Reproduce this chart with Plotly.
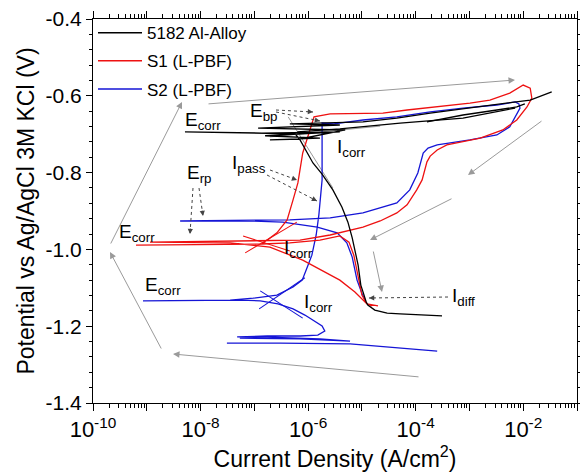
import math
import plotly.graph_objects as go

# ---------------- data (log10 current density in A/cm2, potential in V) ----------------
alloy_logj = [-3.51, -3.92, -4.29, -4.53, -4.76, -4.89, -4.92, -4.96, -5.02, -5.07, -5.13, -5.18,
              -5.26, -5.37, -5.54, -5.74, -5.91, -6.04, -6.15, -6.24, -8.29, -6.86, -5.41, -6.80,
              -5.78, -6.71, -6.15, -5.31, -6.93, -5.41, -6.34, -4.98, -4.35,
              -3.73, -3.12, -2.49, -2.15, -1.87, -1.47,
              None, -1.97, -2.12, -2.49, -3.12, -3.79,
              None, -2.15, -3.12, -4.29, -5.41, -6.20]
alloy_e = [-1.173, -1.171, -1.168, -1.166, -1.158, -1.145, -1.137, -1.119, -1.093, -1.041, -1.002, -0.970,
           -0.929, -0.890, -0.845, -0.804, -0.775, -0.741, -0.715, -0.699, -0.694, -0.697, -0.694, -0.704,
           -0.710, -0.715, -0.7125, -0.689, -0.684, -0.676, -0.673, -0.668, -0.658,
           -0.645, -0.634, -0.624, -0.616, -0.611, -0.590,
           None, -0.621, -0.629, -0.637, -0.650, -0.668,
           None, -0.632, -0.658, -0.671, -0.686, -0.694]

s1_logj = [-4.70, -4.905, -5.00, -5.07, -5.15, -5.24, -5.41, -5.78, -6.34, -6.86, -9.20, -6.86,
           -6.58, -6.39, -6.28, -6.19, -6.10, -5.97, -5.89, -5.59, -4.61, -4.16, -3.60, -2.99,
           -2.62, -2.25, -2.00, -1.87, -1.84, -1.93, -2.12, -2.38, -2.80, -3.42, -3.60, -3.73,
           -3.79, -3.88, -3.98, -4.16, -4.35, -4.66, -4.98, -5.59, -6.15, -7.08, -8.94, -7.45,
           -6.71, -6.10, -5.41, -5.13, -4.98, -4.905, -4.81]
s1_e = [-1.147, -1.142, -1.119, -1.067, -1.015, -0.981, -0.965, -0.976, -0.983, -0.986, -0.989, -0.986,
        -0.957, -0.923, -0.871, -0.827, -0.749, -0.689, -0.655, -0.647, -0.645, -0.637, -0.629, -0.619,
        -0.611, -0.593, -0.572, -0.580, -0.606, -0.629, -0.663, -0.689, -0.710, -0.728, -0.741, -0.757,
        -0.772, -0.819, -0.845, -0.884, -0.905, -0.926, -0.942, -0.9625, -0.976, -0.978, -0.981, -0.983,
        -0.994, -1.028, -1.080, -1.111, -1.132, -1.142, -1.147]

s2_logj = [-3.60, -4.29, -5.22, -6.52, -7.51, None,
           -7.27, -6.15, -5.22, -5.78, -6.76, -7.32,
           -6.76, -6.15, -5.82, -5.69, -5.74, -5.85, -6.06, -6.28, -6.56, -6.89, -7.27,
           -9.07, -7.45, -7.02, -6.58, -6.28, -6.11, -6.02, -5.93, -5.85, -5.80, -5.74, -5.74,
           -5.52, -4.98, -4.35, -3.73, -3.12,
           -2.49, -2.15, -2.08, -2.06, -2.15, -2.25, -2.49, -2.99, -3.60, -3.77, -3.86, -3.96,
           -4.11, -4.35, -4.98, -5.59, -6.34, -8.38, -7.08, -6.47, -5.83, -5.46, -5.28, -5.18,
           -5.09, -5.00, -4.94]
s2_e = [-1.265, -1.257, -1.246, -1.244, -1.244, None,
        -1.231, -1.233, -1.239, -1.233, -1.2285, -1.228,
        -1.2255, -1.2255, -1.223, -1.2125, -1.1995, -1.189, -1.171, -1.155, -1.142, -1.134, -1.132,
        -1.134, -1.132, -1.127, -1.119, -1.098, -1.080, -1.048, -1.015, -0.9625, -0.910, -0.819, -0.671,
        -0.673, -0.663, -0.655, -0.642, -0.632,
        -0.624, -0.616, -0.621, -0.632, -0.655, -0.681, -0.702, -0.715, -0.728, -0.736, -0.749, -0.801,
        -0.845, -0.879, -0.905, -0.918, -0.923, -0.926, -0.926, -0.929, -0.942, -0.957, -0.983, -1.020,
        -1.080, -1.114, -1.132]

# Tafel extrapolation lines
s1_tafel_logj = [-7.17, -6.21, None, -7.21, -6.34]
s1_tafel_e = [-1.009, -0.929, None, -0.965, -1.004]
s2_tafel_logj = [-6.91, -6.06, None, -6.89, -6.10]
s2_tafel_e = [-1.155, -1.074, None, -1.108, -1.179]
alloy_tafel_logj = [-6.37, -5.54, None, -6.71, -4.66]
alloy_tafel_e = [-0.655, -0.840, None, -0.707, -0.679]

series_names = ["5182 Al-Alloy", "S1 (L-PBF)", "S2 (L-PBF)"]
x_tick_exponents = [-10, -9, -8, -7, -6, -5, -4, -3, -2, -1]
x_tick_labels = ["10<sup>-10</sup>", "", "10<sup>-8</sup>", "", "10<sup>-6</sup>", "",
                 "10<sup>-4</sup>", "", "10<sup>-2</sup>", ""]
y_tick_values = [-1.4, -1.2, -1.0, -0.8, -0.6, -0.4]
y_tick_labels = ["-1.4", "-1.2", "-1.0", "-0.8", "-0.6", "-0.4"]


def to_j(vals):
    return [None if v is None else 10 ** v for v in vals]


BLACK, RED, BLUE, GRAY = "#000000", "#ee1111", "#1515d6", "#9a9a9a"
FONT = "Liberation Sans, Arial, sans-serif"

fig = go.Figure()
fig.add_trace(go.Scatter(x=to_j(alloy_tafel_logj), y=alloy_tafel_e, mode="lines",
                         line=dict(color=GRAY, width=1), showlegend=False, hoverinfo="skip"))
fig.add_trace(go.Scatter(x=to_j(s2_logj), y=s2_e, mode="lines", name=series_names[2],
                         line=dict(color=BLUE, width=1.3), showlegend=False))
fig.add_trace(go.Scatter(x=to_j(s2_tafel_logj), y=s2_tafel_e, mode="lines",
                         line=dict(color=BLUE, width=1.1), showlegend=False, hoverinfo="skip"))
fig.add_trace(go.Scatter(x=to_j(s1_logj), y=s1_e, mode="lines", name=series_names[1],
                         line=dict(color=RED, width=1.3), showlegend=False))
fig.add_trace(go.Scatter(x=to_j(s1_tafel_logj), y=s1_tafel_e, mode="lines",
                         line=dict(color=RED, width=1.1), showlegend=False, hoverinfo="skip"))
fig.add_trace(go.Scatter(x=to_j(alloy_logj), y=alloy_e, mode="lines", name=series_names[0],
                         line=dict(color=BLACK, width=1.3), showlegend=False))
# legend entries (in reference order)
for i, (nm, col) in enumerate(zip(series_names, [BLACK, RED, BLUE])):
    fig.add_trace(go.Scatter(x=[None], y=[None], mode="lines", name=nm, legendgroup=f"g{i}",
                             legendrank=i, line=dict(color=col, width=1.5)))

X0, X1, Y0, Y1 = 93, 577, 19, 403


def pp(x, y):
    return (x - X0) / (X1 - X0), (Y1 - y) / (Y1 - Y0)


def arrow(tail, head, color, width=1.0, size=1.0):
    hx, hy = pp(*head)
    fig.add_annotation(xref="paper", yref="paper", x=hx, y=hy, ax=tail[0] - head[0],
                       ay=tail[1] - head[1], axref="pixel", ayref="pixel", text="",
                       showarrow=True, arrowhead=2, arrowsize=size, arrowwidth=width,
                       arrowcolor=color)


def dotted_pointer(tail, head, color="#444444"):
    tx, ty = pp(*tail)
    hx, hy = pp(*head)
    fig.add_shape(type="line", xref="paper", yref="paper", x0=tx, y0=ty, x1=hx, y1=hy,
                  line=dict(color=color, width=1, dash="dot"))
    dx, dy = tail[0] - head[0], tail[1] - head[1]
    n = math.hypot(dx, dy)
    short = (head[0] + dx / n * 7, head[1] + dy / n * 7)
    arrow(short, head, color, 0.8, 1.3)


def label(x, y, txt):
    lx, ly = pp(x, y)
    fig.add_annotation(xref="paper", yref="paper", x=lx, y=ly, text=txt, showarrow=False,
                       xanchor="left", yanchor="middle",
                       font=dict(family=FONT, size=19, color="black"))


# big gray scan-direction arrows
for t, h in [((420, 377), (173, 354)), ((162, 350), (110, 252)), ((110, 245), (182, 102)),
             ((207, 104), (515, 80)), ((543, 120), (468, 175)), ((453, 198), (370, 240)),
             ((373, 250), (382, 292))]:
    arrow(t, h, GRAY, 1.0, 1.3)

# small dotted pointer arrows
for t, h in [((276, 110), (313, 112)), ((276, 112), (320, 121)), ((270, 170), (297, 180)),
             ((267, 175), (317, 201)), ((193, 188), (190, 234)), ((199, 188), (203, 216)),
             ((448, 297), (369, 298))]:
    dotted_pointer(t, h)

label(183, 121, "E<sub>corr</sub>")
label(248, 112, "E<sub>bp</sub>")
label(335, 148, "I<sub>corr</sub>")
label(230, 164, "I<sub>pass</sub>")
label(185, 174, "E<sub>rp</sub>")
label(117, 233, "E<sub>corr</sub>")
label(282, 249, "I<sub>corr</sub>")
label(143, 286, "E<sub>corr</sub>")
label(302, 303, "I<sub>corr</sub>")
label(450, 297, "I<sub>diff</sub>")

x_minor = [m * 10 ** k for k in range(-10, -1) for m in range(2, 10)]
y_minor = [round(-1.4 + 0.04 * i, 2) for i in range(26)]

fig.update_layout(
    width=580, height=473,
    margin=dict(l=93, r=3, t=19, b=70),
    paper_bgcolor="white", plot_bgcolor="white",
    font=dict(family=FONT, color="black"),
    legend=dict(x=0.0, y=1.01, xanchor="left", yanchor="top", bgcolor="rgba(0,0,0,0)",
                font=dict(family=FONT, size=17), tracegroupgap=3, traceorder="grouped",
                itemwidth=44),
    xaxis=dict(type="log", range=[-10, -1], showgrid=False, zeroline=False, automargin=False,
               showline=True, linecolor="black", linewidth=1, mirror="allticks",
               ticks="outside", ticklen=7, tickcolor="black",
               tickmode="array", tickvals=[10 ** k for k in x_tick_exponents], ticktext=x_tick_labels,
               tickfont=dict(family=FONT, size=22),
               minor=dict(ticks="outside", ticklen=4, tickcolor="black", tickvals=x_minor),
               title=dict(text="Current Density (A/cm<sup>2</sup>)", font=dict(family=FONT, size=23),
                          standoff=0)),
    yaxis=dict(range=[-1.4, -0.4], showgrid=False, zeroline=False, automargin=False,
               showline=True, linecolor="black", linewidth=1, mirror="allticks",
               ticks="outside", ticklen=6, tickcolor="black",
               tickmode="array", tickvals=y_tick_values, ticktext=y_tick_labels,
               tickfont=dict(family=FONT, size=21),
               minor=dict(ticks="outside", ticklen=3, tickcolor="black", tickvals=y_minor),
               title=dict(text="Potential vs Ag/AgCl 3M KCl (V)", font=dict(family=FONT, size=23),
                          standoff=4)),
)

fig.write_html("out.html", config={"displayModeBar": False},
               post_script="document.body.style.margin='0';")
